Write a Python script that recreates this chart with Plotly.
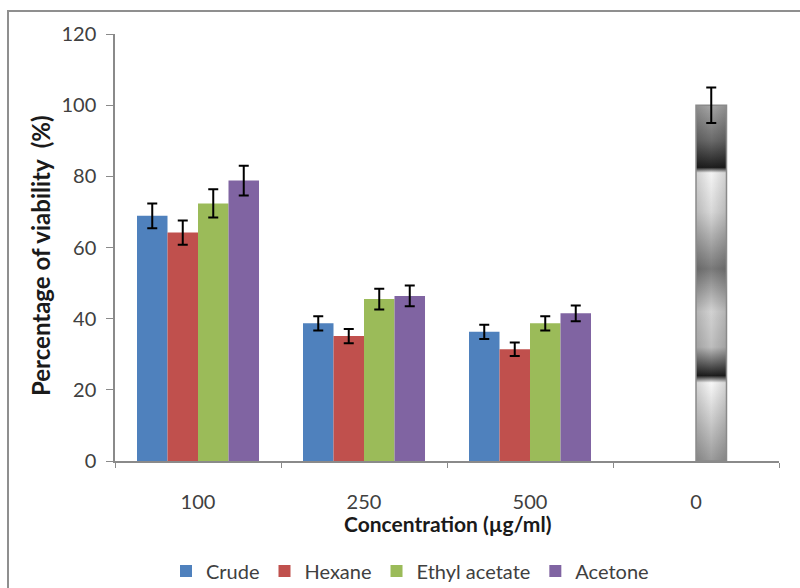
import plotly.graph_objects as go
import urllib.parse

categories = ["100", "250", "500", "0"]
series_names = ["Crude", "Hexane", "Ethyl acetate", "Acetone"]
crude = [68.9, 38.7, 36.3, None]
crude_err = [3.5, 2.0, 2.0, 0]
hexane = [64.2, 35.1, 31.4, None]
hexane_err = [3.4, 2.0, 1.9, 0]
ethyl = [72.4, 45.5, 38.7, None]
ethyl_err = [4.0, 2.9, 2.0, 0]
acetone = [78.8, 46.4, 41.5, None]
acetone_err = [4.2, 2.9, 2.2, 0]
control = [None, None, None, 100]
control_err = [0, 0, 0, 5.0]

x_title = "Concentration (µg/ml)"
y_title = "Percentage of viability  (%)"

colors = ["#4F81BD", "#C0504D", "#9BBB59", "#8064A2"]
FONT = "Lato"
TICK = 20
BARGAP = 0.265

fig = go.Figure()
data = [crude, hexane, ethyl, acetone]
errs = [crude_err, hexane_err, ethyl_err, acetone_err]
for i, (name, vals, err) in enumerate(zip(series_names, data, errs)):
    fig.add_trace(go.Bar(
        x=categories, y=vals, name=name, offsetgroup=str(i),
        marker=dict(color=colors[i], line=dict(width=0)),
        error_y=dict(type="data", array=err, visible=True, color="#000000",
                     thickness=2, width=5),
    ))

# control bar shares the third slot
fig.add_trace(go.Bar(
    x=categories, y=control, name="Control", offsetgroup="2", showlegend=False,
    marker=dict(color="rgba(0,0,0,0)", line=dict(color="#8a8a8a", width=1.5)),
    error_y=dict(type="data", array=control_err, visible=True, color="#000000",
                 thickness=2, width=5),
))

# grey gradient texture behind the transparent control bar
svg = ('<svg xmlns="http://www.w3.org/2000/svg" width="10" height="100" preserveAspectRatio="none">'
       '<defs><linearGradient id="g" x1="0" y1="0" x2="0" y2="1">'
       '<stop offset="0" stop-color="#a8a8a8"/>'
       '<stop offset="0.1" stop-color="#6a6a6a"/>'
       '<stop offset="0.175" stop-color="#1e1e1e"/>'
       '<stop offset="0.19" stop-color="#f4f4f4"/>'
       '<stop offset="0.3" stop-color="#d8d8d8"/>'
       '<stop offset="0.46" stop-color="#7a7a7a"/>'
       '<stop offset="0.58" stop-color="#d2d2d2"/>'
       '<stop offset="0.68" stop-color="#bdbdbd"/>'
       '<stop offset="0.76" stop-color="#1e1e1e"/>'
       '<stop offset="0.78" stop-color="#f8f8f8"/>'
       '<stop offset="1" stop-color="#9a9a9a"/>'
       '</linearGradient>'
       '<linearGradient id="h" x1="0" y1="0" x2="1" y2="0">'
       '<stop offset="0" stop-color="#000" stop-opacity="0.15"/>'
       '<stop offset="0.5" stop-color="#000" stop-opacity="0"/>'
       '<stop offset="1" stop-color="#000" stop-opacity="0.15"/>'
       '</linearGradient></defs>'
       '<rect width="10" height="100" fill="url(#g)"/>'
       '<rect width="10" height="100" fill="url(#h)"/></svg>')
src = "data:image/svg+xml;charset=utf-8," + urllib.parse.quote(svg)
nslots = 4
slot_w = (1 - BARGAP) / nslots
ci = 3
cval = control[ci]
left = ci - (1 - BARGAP) / 2 + 2 * slot_w
fig.add_layout_image(dict(source=src, xref="x", yref="y", x=left, y=cval,
                          sizex=slot_w, sizey=cval, sizing="stretch",
                          xanchor="left", yanchor="top", layer="below"))

# outer frame (only left and top edges visible in the picture)
L, R, T, B = 115, 21, 34, 127
W, H = 800 - L - R, 588 - T - B
fig.add_shape(type="rect", xref="paper", yref="paper",
              x0=(8 - L) / W, x1=(840 - L) / W,
              y0=-(640 - T - H) / H, y1=(H + T - 11) / H,
              line=dict(color="#8f8f8f", width=2), fillcolor="rgba(0,0,0,0)")

# axis titles
fig.add_annotation(text="<b>" + x_title + "</b>", xref="paper", yref="paper",
                   x=0.5, y=-(523 - T - H) / H, xanchor="center", yanchor="middle",
                   showarrow=False, font=dict(family=FONT, size=21, color="#1a1a1a"))
fig.add_annotation(text="<b>" + y_title + "</b>", xref="paper", yref="paper",
                   x=(40 - L) / W, y=(T + H - 256) / H, xanchor="center", yanchor="middle",
                   textangle=-90, showarrow=False,
                   font=dict(family=FONT, size=24, color="#1a1a1a"))

fig.update_layout(
    width=800, height=588,
    margin=dict(l=L, r=R, t=T, b=B, autoexpand=False),
    paper_bgcolor="white", plot_bgcolor="white",
    barmode="group", bargap=BARGAP, bargroupgap=0,
    font=dict(family=FONT, size=TICK, color="#404040"),
    showlegend=True,
    legend=dict(orientation="h", xref="container", yref="container",
                x=166 / 800, xanchor="left",
                y=1 - 571 / 588, yanchor="middle",
                font=dict(family=FONT, size=TICK, color="#404040"),
                itemwidth=30, traceorder="normal"),
    xaxis=dict(showline=True, linecolor="#8a8a8a", linewidth=1.5,
               ticks="outside", tickson="boundaries", ticklen=5,
               tickcolor="#8a8a8a", showgrid=False, ticklabelstandoff=22,
               tickfont=dict(family=FONT, size=TICK, color="#404040")),
    yaxis=dict(range=[0, 120], dtick=20, showline=True, linecolor="#8a8a8a",
               linewidth=1.5, ticks="outside", ticklen=7, tickcolor="#8a8a8a",
               showgrid=False, zeroline=False, ticklabelstandoff=6,
               tickfont=dict(family=FONT, size=TICK, color="#404040")),
)

fig.write_html("out.html")
